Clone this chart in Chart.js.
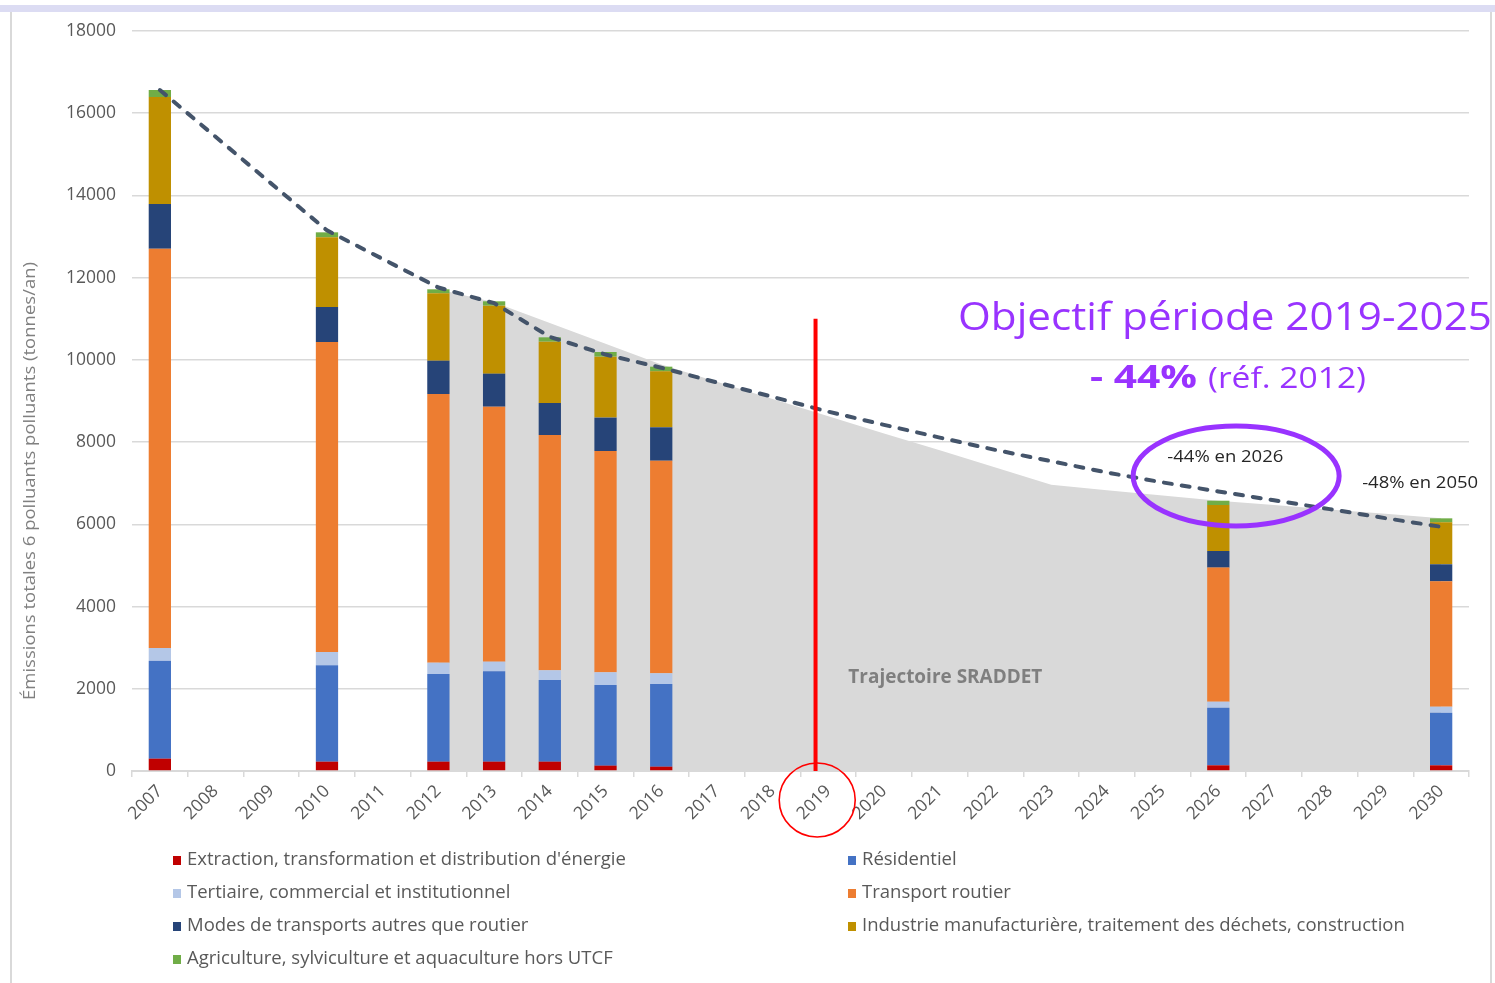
<!DOCTYPE html>
<html>
<head>
<meta charset="utf-8">
<script src="https://cdn.jsdelivr.net/npm/chart.js@4.4.0/dist/chart.umd.min.js"></script>
<style>
body { margin: 0; background: #fff; }
#wrap { position: relative; width: 1495px; height: 983px; overflow: hidden; }
#frame { position: absolute; left: 10px; top: 11px; width: 1478px; height: 990px; border-left: 2px solid #d9d9d9; border-right: 2px solid #d9d9d9; }
#band { position: absolute; left: 0; top: 5px; width: 1495px; height: 7px; background: #dcdcf3; }
canvas { position: absolute; left: 0; top: 0; }
</style>
</head>
<body>
<div id="wrap">
  <div id="frame"></div>
  <canvas id="grafico" width="1495" height="983"></canvas>
  <div id="band"></div>
</div>
<script>
// Emissions par secteur + trajectoire SRADDET

const anios = ['2007','2008','2009','2010','2011','2012','2013','2014','2015','2016','2017','2018',
               '2019','2020','2021','2022','2023','2024','2025','2026','2027','2028','2029','2030'];

const aniosBarras = ['2007','2010','2012','2013','2014','2015','2016','2026','2030'];
const extraction  = [300, 227, 227, 227, 227, 130, 105, 138, 138];
const residentiel = [2384, 2344, 2133, 2198, 1986, 1962, 2011, 1402, 1280];
const tertiaire   = [308, 324, 275, 235, 236, 308, 260, 146, 146];
const transport   = [9713, 7540, 6535, 6202, 5724, 5384, 5172, 3261, 3050];
const modes       = [1087, 852, 811, 803, 779, 812, 812, 405, 414];
const industrie   = [2603, 1695, 1639, 1654, 1491, 1483, 1362, 1118, 1021];
const agriculture = [170, 121, 97, 106, 106, 113, 113, 105, 97];

const aniosSraddet = ['2012','2013','2014','2015','2016','2017','2018','2019','2020','2021',
                      '2022','2023','2024','2025','2026','2027','2028','2029','2030'];
const sraddet = [11717, 11400, 10900, 10390, 9890, 9470, 9050, 8630, 8210, 7800,
                 7380, 6960, 6830, 6700, 6575, 6470, 6360, 6255, 6146];

const aniosTendance = ['2007','2010','2012','2013','2014','2015','2016','2017','2018','2019','2020',
                       '2021','2022','2023','2024','2025','2026','2027','2028','2029','2030'];
const tendance = [16565, 13150, 11760, 11380, 10560, 10130, 9810, 9450, 9100, 8740, 8420,
                  8110, 7810, 7535, 7260, 7020, 6800, 6585, 6370, 6150, 5940];

const etiquetas = [
    'Extraction, transformation et distribution d\'énergie',
    'Résidentiel',
    'Tertiaire, commercial et institutionnel',
    'Transport routier',
    'Modes de transports autres que routier',
    'Industrie manufacturière, traitement des déchets, construction',
    'Agriculture, sylviculture et aquaculture hors UTCF'
];
const colores = ['#c00000', '#4472c4', '#b4c7e7', '#ed7d31', '#264478', '#bf9000', '#70ad47'];
const series = [extraction, residentiel, tertiaire, transport, modes, industrie, agriculture];

const fuente = 'Open Sans';
const gris = '#595959';

function puntos(xs, ys) {
    return xs.map(function(a, i) { return { x: a, y: ys[i] }; });
}

var datasets = [];
series.forEach(function(valores, i) {
    datasets.push({
        type: 'bar',
        label: etiquetas[i],
        data: puntos(aniosBarras, valores),
        backgroundColor: colores[i],
        borderWidth: 0,
        stack: 'secteurs',
        order: 2,
        barPercentage: 0.4,
        categoryPercentage: 1
    });
});
datasets.push({
    type: 'line',
    label: 'Trajectoire SRADDET',
    data: puntos(aniosSraddet, sraddet),
    fill: 'origin',
    backgroundColor: '#d9d9d9',
    borderWidth: 0,
    pointRadius: 0,
    stack: 'sraddet',
    order: 3
});
datasets.push({
    type: 'line',
    label: 'Tendance',
    data: puntos(aniosTendance, tendance),
    fill: false,
    borderColor: '#44546a',
    borderWidth: 4,
    borderDash: [8, 10],
    borderCapStyle: 'round',
    pointRadius: 0,
    stack: 'tendance',
    order: 1
});

// texte ajuste a une largeur
function textoAjustado(ctx, texto, x, y, ancho, font, color, angulo) {
    ctx.save();
    ctx.font = font;
    ctx.fillStyle = color;
    ctx.textBaseline = 'alphabetic';
    ctx.textAlign = 'left';
    var w = ctx.measureText(texto).width;
    ctx.translate(x, y);
    if (angulo) ctx.rotate(angulo);
    ctx.scale(ancho / w, 1);
    ctx.fillText(texto, 0, 0);
    ctx.restore();
}

function elipse(ctx, cx, cy, rx, ry, color, grosor) {
    ctx.save();
    ctx.beginPath();
    ctx.ellipse(cx, cy, rx, ry, 0, 0, Math.PI * 2);
    ctx.strokeStyle = color;
    ctx.lineWidth = grosor;
    ctx.stroke();
    ctx.restore();
}

const anotaciones = {
    id: 'anotaciones',
    afterDraw: function(chart) {
        const ctx = chart.ctx;
        const x = chart.scales.x, y = chart.scales.y;
        const paso = x.getPixelForValue(1) - x.getPixelForValue(0);
        const px = function(a) { return x.getPixelForValue(anios.indexOf(a)); };

        // titre de l'axe y
        textoAjustado(ctx, 'Émissions totales 6 polluants polluants (tonnes/an)', 35, 700, 438,
            '17px ' + fuente, '#808080', -Math.PI / 2);

        // ligne rouge 2019
        ctx.save();
        ctx.strokeStyle = '#ff0000';
        ctx.lineWidth = 4;
        ctx.beginPath();
        ctx.moveTo(px('2019') - 0.23 * paso, y.getPixelForValue(11000));
        ctx.lineTo(px('2019') - 0.23 * paso, y.getPixelForValue(0));
        ctx.stroke();
        ctx.restore();

        elipse(ctx, px('2019') - 0.2 * paso, y.bottom + 29, 38, 37, '#ff0000', 1.6);
        elipse(ctx, px('2026') + 0.32 * paso, y.getPixelForValue(7176), 103, 50, '#9933ff', 5);

        textoAjustado(ctx, 'Trajectoire SRADDET', px('2019') + 20, y.getPixelForValue(2133), 194,
            'bold 19px ' + fuente, '#7f7f7f');
        textoAjustado(ctx, '-44% en 2026', px('2026') - 51, y.getPixelForValue(7524), 116,
            '17px ' + fuente, '#262626');
        textoAjustado(ctx, '-48% en 2050', px('2030') - 79, y.getPixelForValue(6877), 116,
            '17px ' + fuente, '#262626');

        textoAjustado(ctx, 'Objectif période 2019-2025', 958, 330, 534, '38px ' + fuente, '#9933ff');
        textoAjustado(ctx, '- 44%', 1090, 388, 107, 'bold 32px ' + fuente, '#9933ff');
        textoAjustado(ctx, '(réf. 2012)', 1208, 388, 158, '30px ' + fuente, '#9933ff');

        // legende sur deux colonnes
        ctx.save();
        ctx.font = '18.5px ' + fuente;
        ctx.textBaseline = 'middle';
        for (var i = 0; i < 7; i++) {
            var col = i % 2, fila = Math.floor(i / 2);
            var lx = col ? 848 : 173;
            var ly = 860 + fila * 33;
            ctx.fillStyle = chart.data.datasets[i].backgroundColor;
            ctx.fillRect(lx, ly - 4, 8, 9);
            ctx.fillStyle = gris;
            ctx.fillText(chart.data.datasets[i].label, lx + 14, ly);
        }
        ctx.restore();
    }
};

const ctx = document.getElementById('grafico').getContext('2d');
const grafico = new Chart(ctx, {
    data: {
        labels: anios,
        datasets: datasets
    },
    options: {
        responsive: false,
        animation: false,
        devicePixelRatio: 1,
        layout: { padding: { left: 12, right: 26, top: 31, bottom: 0 } },
        plugins: {
            legend: { display: false },
            tooltip: { enabled: false }
        },
        scales: {
            x: {
                stacked: true,
                offset: true,
                grid: { drawOnChartArea: false, drawTicks: true, tickLength: 6, color: '#d9d9d9', lineWidth: 1.5, offset: true },
                border: { color: '#d9d9d9', width: 2 },
                ticks: {
                    minRotation: 45, maxRotation: 45, autoSkip: false, padding: 4,
                    color: gris, font: { family: fuente, size: 17.5 }
                },
                afterFit: function(s) { s.height = 212; }
            },
            y: {
                stacked: true,
                min: 0,
                max: 18000,
                grid: { color: '#d9d9d9', lineWidth: 1.5, drawTicks: false },
                border: { display: false },
                ticks: {
                    stepSize: 2000, padding: 16, color: gris,
                    font: { family: fuente, size: 17.5 },
                    callback: function(v) { return String(v); }
                },
                afterFit: function(s) { s.width = 120; }
            }
        }
    },
    plugins: [anotaciones]
});
</script>
</body>
</html>
